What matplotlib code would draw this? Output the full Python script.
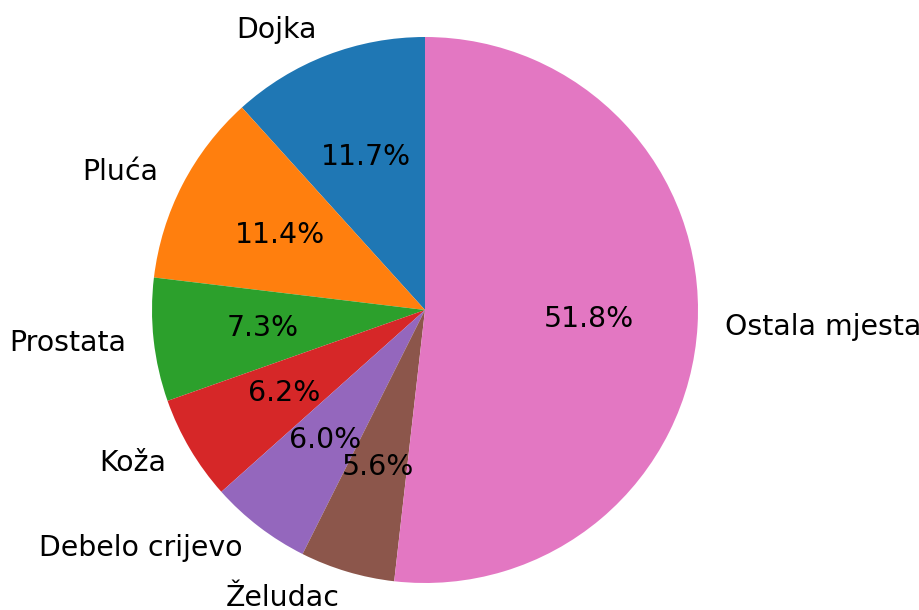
import matplotlib.pyplot as plt

# podaci
labels = ["Dojka", "Pluća", "Prostata", "Koža", "Debelo crijevo", "Želudac", "Ostala mjesta"]
values = [11.7, 11.4, 7.3, 6.2, 6.0, 5.6, 51.8]

fig = plt.figure(figsize=(9.2, 6.1), dpi=100)
ax = fig.add_axes([0, 0, 1, 1])

ax.pie(values, labels=labels, autopct="%1.1f%%", startangle=90,
       textprops={"fontsize": 20.4})

# polozaj kruga kao na slici
r = 273
ax.set_aspect("auto")
ax.set_xlim(-425 / r, 495 / r)
ax.set_ylim(-300 / r, 310 / r)
ax.axis("off")

fig.savefig("out.png", dpi=100)
